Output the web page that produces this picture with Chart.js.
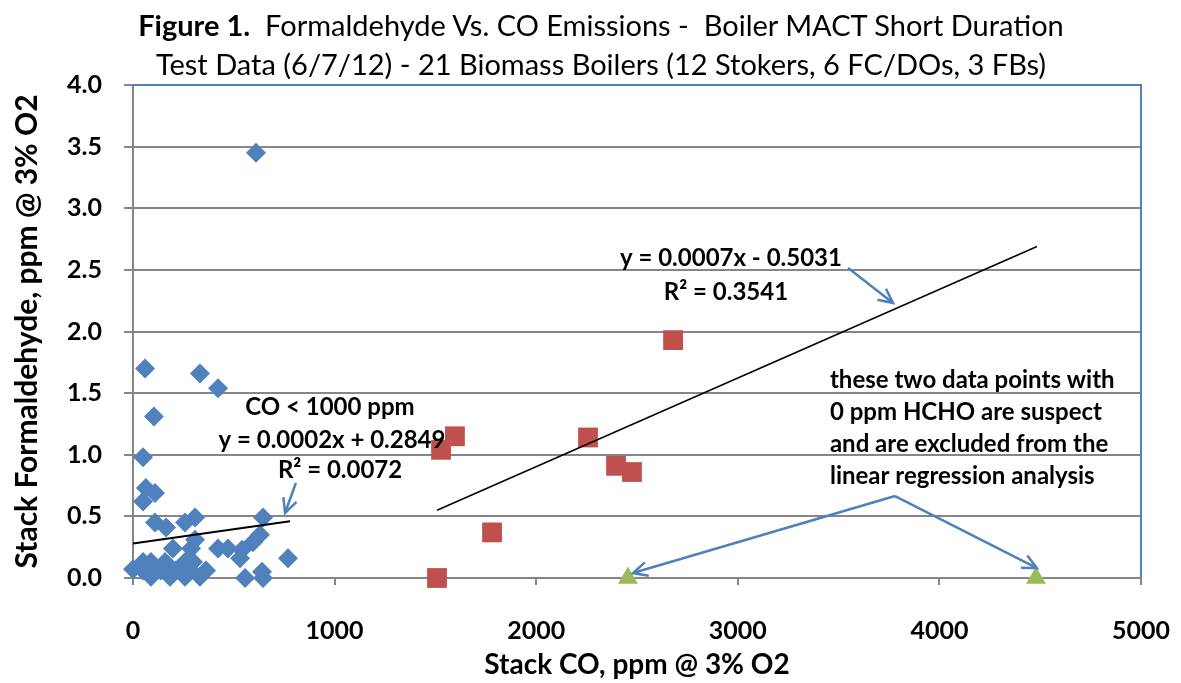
<!DOCTYPE html>
<html>
<head>
<meta charset="utf-8">
<script src="https://cdn.jsdelivr.net/npm/chart.js@4.4.1/dist/chart.umd.min.js"></script>
<style>
  body { margin: 0; background: #fff; }
  #wrap { position: relative; width: 1181px; height: 683px; }
  #chartTitle {
    position: absolute; left: 0; top: 5px; width: 1202px; text-align: center;
    font-family: Lato, sans-serif; font-size: 29px; line-height: 39px; color: #000;
  }
  #chartTitle b { font-weight: 700; }
</style>
</head>
<body>
<div id="wrap">
  <canvas id="chart" width="1181" height="683"></canvas>
  <div id="chartTitle"><b>Figure 1.</b>&nbsp; Formaldehyde Vs. CO Emissions -&nbsp; Boiler MACT Short Duration<br>Test Data (6/7/12) - 21 Biomass Boilers (12 Stokers, 6 FC/DOs, 3 FBs)</div>
</div>
<script>
// valores (CO en ppm, HCHO en ppm)
const blueCO   = [60, 332, 422, 104, 50, 64, 109, 50, 109, 164, 258, 308, 198, 288, 308, 422, 471, 541, 531, 595, 630, 645, 769, 556, 640, 645, 610,
                  0, 50, 89, 139, 184, 213, 258, 288, 332, 362, 50, 89, 159, 258, 298];
const blueHCHO = [1.70, 1.66, 1.54, 1.31, 0.98, 0.73, 0.69, 0.62, 0.45, 0.41, 0.45, 0.49, 0.24, 0.24, 0.31, 0.24, 0.24, 0.23, 0.16, 0.29, 0.35, 0.49, 0.16, 0.0, 0.05, 0.0, 3.45,
                  0.07, 0.06, 0.01, 0.06, 0.01, 0.06, 0.01, 0.06, 0.01, 0.06, 0.13, 0.13, 0.13, 0.13, 0.13];
const redCO    = [1508, 1528, 1597, 1781, 2257, 2396, 2475, 2679];
const redHCHO  = [0.0, 1.04, 1.15, 0.37, 1.14, 0.91, 0.86, 1.93];
const greenCO   = [2455, 4479];
const greenHCHO = [0.0, 0.0];
const fitLowCO    = [0, 779];
const fitLowHCHO  = [0.28, 0.46];
const fitHighCO   = [1508, 4484];
const fitHighHCHO = [0.55, 2.69];
const xTicks = [0, 1000, 2000, 3000, 4000, 5000];
const yTicks = [0, 0.5, 1, 1.5, 2, 2.5, 3, 3.5, 4];

const toPoints = (xs, ys) => xs.map((x, i) => ({x: x, y: ys[i]}));

// textos y flechas en unidades de datos
const notes = [
  {text: 'CO < 1000 ppm', x: 977, y: 1.387, align: 'center'},
  {text: 'y = 0.0002x + 0.2849', x: 987, y: 1.12, align: 'center'},
  {text: 'R\u00b2 = 0.0072', x: 1027, y: 0.876, align: 'center'},
  {text: 'y = 0.0007x - 0.5031', x: 2966, y: 2.596, align: 'center'},
  {text: 'R\u00b2 = 0.3541', x: 2941, y: 2.32, align: 'center'},
  {text: 'these two data points with', x: 3457, y: 1.607, align: 'left'},
  {text: '0 ppm HCHO are suspect', x: 3457, y: 1.347, align: 'left'},
  {text: 'and are excluded from the', x: 3457, y: 1.087, align: 'left'},
  {text: 'linear regression analysis', x: 3457, y: 0.828, align: 'left'}
];
const arrows = [
  {x1: 808, y1: 0.771, x2: 754, y2: 0.527},
  {x1: 3547, y1: 2.515, x2: 3770, y2: 2.231},
  {x1: 3780, y1: 0.665, x2: 2480, y2: 0.04},
  {x1: 3780, y1: 0.665, x2: 4484, y2: 0.08}
];

const frameAndNotes = {
  id: 'frameAndNotes',
  beforeDatasetsDraw(chart) {
    const {ctx, chartArea: a} = chart;
    ctx.save();
    ctx.strokeStyle = '#4F81BD';
    ctx.lineWidth = 2;
    ctx.beginPath();
    ctx.moveTo(a.left, a.top);
    ctx.lineTo(a.right, a.top);
    ctx.lineTo(a.right, a.bottom);
    ctx.stroke();
    ctx.restore();
  },
  afterDatasetsDraw(chart) {
    const {ctx, scales} = chart;
    const px = v => scales.x.getPixelForValue(v);
    const py = v => scales.y.getPixelForValue(v);
    ctx.save();
    ctx.fillStyle = '#000';
    ctx.font = 'bold 24px Lato';
    ctx.textBaseline = 'middle';
    notes.forEach(n => {
      ctx.textAlign = n.align;
      ctx.fillText(n.text, px(n.x), py(n.y));
    });
    ctx.strokeStyle = '#4F81BD';
    ctx.lineWidth = 2.5;
    arrows.forEach(ar => {
      const x1 = px(ar.x1), y1 = py(ar.y1), x2 = px(ar.x2), y2 = py(ar.y2);
      const ang = Math.atan2(y2 - y1, x2 - x1);
      const head = 16;
      ctx.beginPath();
      ctx.moveTo(x1, y1);
      ctx.lineTo(x2, y2);
      ctx.moveTo(x2 - head * Math.cos(ang - 0.45), y2 - head * Math.sin(ang - 0.45));
      ctx.lineTo(x2, y2);
      ctx.lineTo(x2 - head * Math.cos(ang + 0.45), y2 - head * Math.sin(ang + 0.45));
      ctx.stroke();
    });
    ctx.restore();
  }
};

const tickFont = {family: 'Lato', size: 25, weight: 'bold'};

new Chart(document.querySelector('#chart'), {
  type: 'scatter',
  data: {
    datasets: [
      {label: 'fit high', type: 'line', data: toPoints(fitHighCO, fitHighHCHO), borderColor: '#000', borderWidth: 1.5, pointRadius: 0, fill: false, order: 1},
      {label: 'fit low', type: 'line', data: toPoints(fitLowCO, fitLowHCHO), borderColor: '#000', borderWidth: 2, pointRadius: 0, fill: false, order: 1},
      {label: 'Stokers', data: toPoints(blueCO, blueHCHO), pointStyle: 'rectRot', pointRadius: 10, backgroundColor: '#4F81BD', borderColor: '#4F81BD', borderWidth: 0, order: 2},
      {label: 'FC/DO', data: toPoints(redCO, redHCHO), pointStyle: 'rect', pointRadius: 14, backgroundColor: '#C0504D', borderColor: '#C0504D', borderWidth: 0, order: 2},
      {label: 'FB', data: toPoints(greenCO, greenHCHO), pointStyle: 'triangle', pointRadius: 11.5, backgroundColor: '#9BBB59', borderColor: '#9BBB59', borderWidth: 0, order: 2}
    ]
  },
  options: {
    responsive: false,
    animation: false,
    clip: false,
    layout: {padding: {top: 85, right: 40, left: 0, bottom: 0}},
    plugins: {
      legend: {display: false},
      title: {display: false},
      tooltip: {enabled: false}
    },
    scales: {
      x: {
        type: 'linear', min: 0, max: 5000,
        afterBuildTicks: s => { s.ticks = xTicks.map(v => ({value: v})); },
        afterFit: s => { s.height = 105; s.paddingLeft = 0; s.paddingRight = 0; },
        ticks: {font: tickFont, color: '#000', padding: 31, maxRotation: 0, callback: v => String(v)},
        grid: {drawOnChartArea: false, drawTicks: true, tickLength: 7, color: '#868686', lineWidth: 2},
        border: {color: '#868686', width: 2},
        title: {display: true, text: 'Stack CO, ppm @ 3% O2', color: '#000', font: {family: 'Lato', size: 28, weight: 'bold'}, padding: {top: 4, bottom: 1}}
      },
      y: {
        type: 'linear', min: 0, max: 4,
        afterBuildTicks: s => { s.ticks = yTicks.map(v => ({value: v})); },
        afterFit: s => { s.width = 133; s.paddingTop = 0; s.paddingBottom = 0; },
        ticks: {font: tickFont, color: '#000', padding: 22, callback: v => v.toFixed(1)},
        grid: {color: '#868686', lineWidth: 2, tickLength: 9, drawTicks: true},
        border: {color: '#868686', width: 2},
        title: {display: true, text: 'Stack Formaldehyde, ppm @ 3% O2', color: '#000', font: {family: 'Lato', size: 30, weight: 'bold'}, padding: {top: 9, bottom: 0}}
      }
    }
  },
  plugins: [frameAndNotes]
});
</script>
</body>
</html>
